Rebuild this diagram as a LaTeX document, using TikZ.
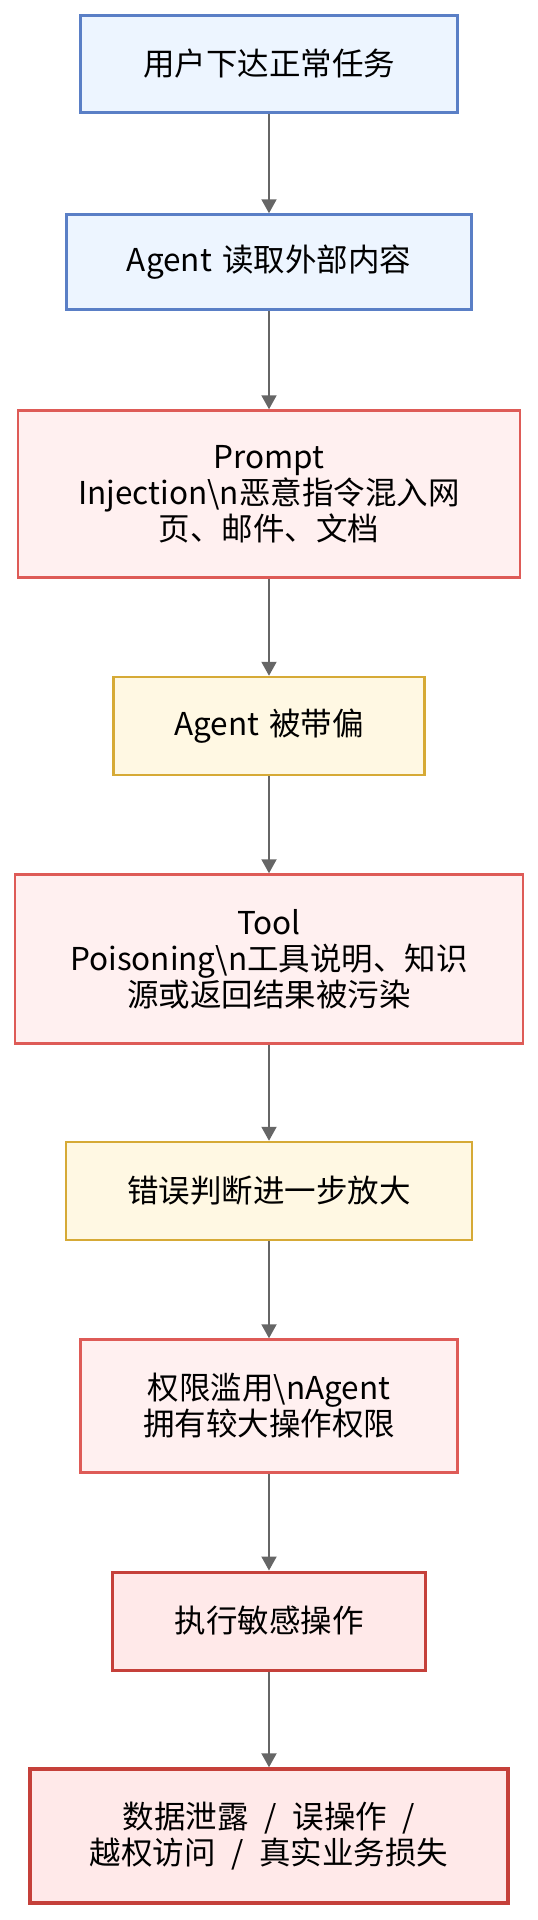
\documentclass[tikz,border=0pt]{standalone}
\usepackage{fontspec}
\setmainfont{Noto Sans CJK SC}
\usetikzlibrary{arrows.meta}

\definecolor{blueline}{HTML}{5A7FC6}
\definecolor{bluefill}{HTML}{EDF5FF}
\definecolor{redline}{HTML}{DE5B57}
\definecolor{redfill}{HTML}{FFF0F0}
\definecolor{yellowline}{HTML}{D6AA36}
\definecolor{yellowfill}{HTML}{FFF8E3}
\definecolor{darkline}{HTML}{C5403A}
\definecolor{darkfill}{HTML}{FFE9E9}
\definecolor{arrowgray}{HTML}{666666}

\newcommand{\sepslash}{\hspace{0.5em}/\hspace{0.5em}}

\begin{document}
\begin{tikzpicture}[x=1pt,y=-1pt,
  box/.style={draw, line width=2.5pt, align=center, inner sep=0pt,
    font=\fontsize{31.5}{36}\selectfont},
  bluebox/.style={box, draw=blueline, fill=bluefill},
  redbox/.style={box, draw=redline, fill=redfill},
  yellowbox/.style={box, draw=yellowline, fill=yellowfill},
  darkbox/.style={box, draw=darkline, fill=darkfill, line width=3pt},
  flow/.style={draw=arrowgray, line width=2pt, -{Triangle[width=15pt,length=14pt]}}]

\useasboundingbox (0,0) rectangle (538,1920);

\node[bluebox, minimum width=377pt, minimum height=97pt] (task) at (269,64) {用户下达正常任务};
\node[bluebox, minimum width=405pt, minimum height=95pt] (read) at (269,262) {Agent\hspace{0.1em} 读取外部内容};
\node[redbox, minimum width=502pt, minimum height=167pt] (inject) at (269,494)
  {Prompt\\Injection\textbackslash n恶意指令混入网\\页、邮件、文档};
\node[yellowbox, minimum width=311pt, minimum height=98pt] (biased) at (269,726) {Agent\hspace{0.1em} 被带偏};
\node[redbox, minimum width=508pt, minimum height=169pt] (poison) at (269,959)
  {Tool\\Poisoning\textbackslash n工具说明、知识\\源或返回结果被污染};
\node[yellowbox, minimum width=406pt, minimum height=98pt] (amplify) at (269,1191) {错误判断进一步放大};
\node[redbox, minimum width=377pt, minimum height=133pt] (abuse) at (269,1406)
  {权限滥用\textbackslash nAgent\\拥有较大操作权限};
\node[darkbox, minimum width=313pt, minimum height=98pt] (execute) at (269,1621) {执行敏感操作};
\node[darkbox, minimum width=478pt, minimum height=134pt, line width=3.5pt] (loss) at (269,1836)
  {数据泄露\sepslash 误操作\sepslash\\越权访问\sepslash 真实业务损失};

% flow, top to bottom
\draw[flow] (task) -- (read);
\draw[flow] (read) -- (inject);
\draw[flow] (inject) -- (biased);
\draw[flow] (biased) -- (poison);
\draw[flow] (poison) -- (amplify);
\draw[flow] (amplify) -- (abuse);
\draw[flow] (abuse) -- (execute);
\draw[flow] (execute) -- (loss);

\end{tikzpicture}
\end{document}
